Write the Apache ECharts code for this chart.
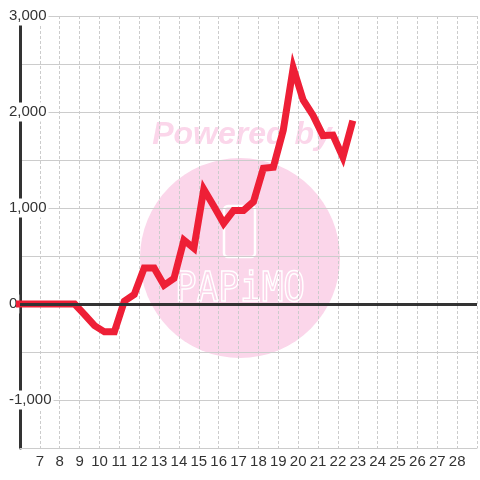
<!DOCTYPE html>
<html>
<head>
<meta charset="utf-8">
<script src="https://cdn.jsdelivr.net/npm/echarts@6/dist/echarts.min.js"></script>
<style>
  html, body { margin: 0; padding: 0; background: #fff; }
  #main { width: 480px; height: 480px; }
</style>
</head>
<body>
<div id="main"></div>
<script>
// x positions (half-hour steps) and values
var hours = [5.75, 6.25, 6.75, 7.25, 7.75, 8.25, 8.75, 9.25, 9.75, 10.25, 10.75,
             11.25, 11.75, 12.25, 12.75, 13.25, 13.75, 14.25, 14.75, 15.25, 15.75,
             16.25, 16.75, 17.25, 17.75, 18.25, 18.75, 19.25, 19.75, 20.25, 20.75,
             21.25, 21.75, 22.25, 22.75];
var values = [0, 0, 0, 0, 0, 0, 0, -110, -225, -290, -290,
              30, 100, 375, 375, 195, 268, 665, 580, 1195, 1020,
              840, 975, 975, 1065, 1415, 1425, 1810, 2460, 2125, 1965,
              1755, 1760, 1530, 1910];
var xTicks = [7, 8, 9, 10, 11, 12, 13, 14, 15, 16, 17, 18, 19, 20, 21, 22, 23, 24, 25, 26, 27, 28];
var yLabels = [3000, 2000, 1000, 0, -1000];

var points = hours.map(function (h, i) { return [h, values[i]]; });

var myChart = echarts.init(document.getElementById('main'));
myChart.setOption({
    backgroundColor: '#fff',
    animation: false,
    grid: { left: 20, right: 0, top: 16, bottom: 32, containLabel: false },
    graphic: [
        {
            type: 'group', z: -10, silent: true,
            children: [
                { type: 'circle', shape: { cx: 240, cy: 258, r: 100 },
                  style: { fill: '#fbd6ea' } },
                { type: 'text', x: 242, y: 135,
                  style: { text: 'Powered by', fill: '#fbd6ea', font: 'italic bold 32px "Liberation Sans", Arial, sans-serif',
                           align: 'center', verticalAlign: 'middle' } },
                { type: 'rect', shape: { x: 224, y: 206, width: 31, height: 51, r: 4 },
                  style: { fill: 'none', stroke: '#fff', lineWidth: 2.5 } },
                { type: 'text', x: 240, y: 291, scaleX: 0.9,
                  style: { text: 'PAPiMO', fill: 'none', stroke: '#fff', lineWidth: 1.5,
                           font: '40px "DejaVu Sans Mono", monospace',
                           align: 'center', verticalAlign: 'middle' } }
            ]
        }
    ],
    xAxis: {
        type: 'value',
        min: 6,
        max: 29,
        interval: 1,
        axisLine: { onZero: false, lineStyle: { color: '#cccccc', width: 1 } },
        axisTick: { show: false },
        axisLabel: {
            color: '#333', fontSize: 15, margin: 6,
            fontFamily: '"Liberation Sans", Arial, sans-serif',
            formatter: function (v) { return xTicks.indexOf(v) >= 0 ? String(v) : ''; }
        },
        splitLine: { show: true, lineStyle: { color: '#cccccc', type: [3, 2], width: 1 } }
    },
    yAxis: {
        type: 'value',
        min: -1500,
        max: 3000,
        interval: 500,
        axisLine: { show: true, lineStyle: { color: '#333', width: 3 } },
        axisTick: { show: false },
        axisLabel: {
            color: '#333', fontSize: 15, margin: 12, align: 'left',
            fontFamily: '"Liberation Sans", Arial, sans-serif',
            backgroundColor: '#fff', padding: [2, 2, 2, 1],
            formatter: function (v) {
                return yLabels.indexOf(v) >= 0 ? v.toLocaleString('en-US') : '';
            }
        },
        splitLine: { show: true, lineStyle: { color: '#cccccc', width: 1 } }
    },
    series: [
        {
            type: 'line',
            data: [],
            z: 1,
            silent: true,
            markLine: {
                silent: true,
                symbol: ['none', 'none'],
                label: { show: false },
                lineStyle: { color: '#333', width: 3, type: 'solid' },
                data: [{ yAxis: 0 }]
            }
        },
        {
            type: 'line',
            data: points,
            z: 3,
            showSymbol: false,
            lineStyle: { color: '#ee1f36', width: 7, join: 'miter' }
        }
    ]
});
</script>
</body>
</html>
